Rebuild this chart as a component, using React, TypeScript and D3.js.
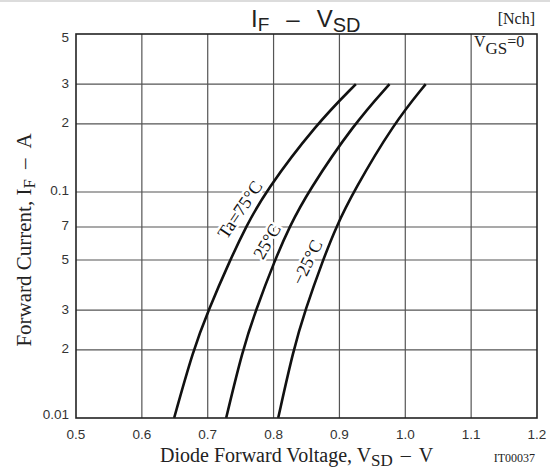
import React, { useEffect } from 'react';
import * as d3 from 'd3';

const W = 550;
const H = 471;

const xTicks = [0.5, 0.6, 0.7, 0.8, 0.9, 1.0, 1.1, 1.2];
const xTickLabels = ['0.5', '0.6', '0.7', '0.8', '0.9', '1.0', '1.1', '1.2'];
const yTicks = [0.01, 0.02, 0.03, 0.05, 0.07, 0.1, 0.2, 0.3, 0.5];
const yTickLabels = ['0.01', '2', '3', '5', '7', '0.1', '2', '3', '5'];

const currents = [0.01, 0.02, 0.03, 0.05, 0.07, 0.1, 0.2, 0.3];
const v75 = [0.649, 0.678, 0.701, 0.734, 0.758, 0.787, 0.865, 0.925];
const v25 = [0.728, 0.753, 0.773, 0.802, 0.824, 0.852, 0.922, 0.976];
const vm25 = [0.807, 0.83, 0.848, 0.875, 0.895, 0.921, 0.982, 1.031];

const seriesLabels = ['Ta=75°C', '25°C', '−25°C'];
const seriesLabelAt = [
  { v: 0.749, i: 0.0835, angle: -56 },
  { v: 0.79, i: 0.0604, angle: -60 },
  { v: 0.851, i: 0.0488, angle: -64 },
];

const SANS = '"Liberation Sans", Arial, sans-serif';
const SERIF = '"Liberation Serif", "Times New Roman", serif';

export default function App() {
  useEffect(() => {
    document.body.style.margin = '0';
  }, []);

  const left = 76, right = 537, top = 34, bottom = 418;
  const x = d3.scaleLinear().domain([0.5, 1.2]).range([left, right]);
  const y = d3.scaleLog().domain([0.01, 0.5]).range([bottom, top]);

  const line = d3
    .line<[number, number]>()
    .x((d) => x(d[0]))
    .y((d) => y(d[1]))
    .curve(d3.curveBasis);

  const series = [v75, v25, vm25].map((vs) =>
    vs.map((v, k) => [v, currents[k]] as [number, number])
  );

  const yLabelNudge = (k: number) => (k === 0 ? -4 : k === yTicks.length - 1 ? 3 : -1);

  return (
    <svg
      width={W}
      height={H}
      viewBox={`0 0 ${W} ${H}`}
      style={{ position: 'absolute', left: 0, top: 0, background: '#fff' }}
    >
      <rect x={0} y={0} width={W} height={H} fill="#fff" />
      <rect x={0} y={0} width={W} height={2} fill="#dcdcdc" />

      {/* grid */}
      {xTicks.slice(1, -1).map((t) => (
        <line key={'vx' + t} x1={x(t)} x2={x(t)} y1={top} y2={bottom} stroke="#555" strokeWidth={1.2} />
      ))}
      {yTicks.slice(1, -1).map((t) => (
        <line key={'hy' + t} x1={left} x2={right} y1={y(t)} y2={y(t)} stroke="#555" strokeWidth={1.2} />
      ))}

      {/* curves */}
      {series.map((s, k) => (
        <path key={'c' + k} d={line(s) || ''} fill="none" stroke="#111" strokeWidth={2.6} />
      ))}

      {/* curve labels */}
      {seriesLabels.map((lab, k) => {
        const p = seriesLabelAt[k];
        const cx = x(p.v);
        const cy = y(p.i);
        return (
          <text
            key={'l' + k}
            transform={`translate(${cx},${cy}) rotate(${p.angle})`}
            textAnchor="middle"
            dominantBaseline="central"
            fontFamily={SERIF}
            fontSize={18}
            fill="#111"
            stroke="#fff"
            strokeWidth={5}
            strokeLinejoin="round"
            style={{ paintOrder: 'stroke' }}
          >
            {lab}
          </text>
        );
      })}

      {/* frame */}
      <rect x={left} y={top} width={right - left} height={bottom - top} fill="none" stroke="#222" strokeWidth={1.6} />

      {/* tick labels */}
      {yTicks.map((t, k) => (
        <text
          key={'yt' + t}
          x={69}
          y={y(t) + yLabelNudge(k)}
          textAnchor="end"
          dominantBaseline="central"
          fontFamily={SANS}
          fontSize={13.5}
          fill="#333"
        >
          {yTickLabels[k]}
        </text>
      ))}
      {xTicks.map((t, k) => (
        <text
          key={'xt' + t}
          x={x(t)}
          y={439}
          textAnchor="middle"
          fontFamily={SANS}
          fontSize={13.5}
          fill="#333"
        >
          {xTickLabels[k]}
        </text>
      ))}

      {/* title */}
      <text x={251} y={27} fontFamily={SANS} fontSize={24} fill="#222">
        <tspan>I</tspan>
        <tspan fontSize={19} dy={4}>F</tspan>
        <tspan dy={-4} dx={17}>–</tspan>
        <tspan dx={17}>V</tspan>
        <tspan fontSize={20} dy={5}>SD</tspan>
      </text>
      <text x={535} y={24} textAnchor="end" fontFamily={SERIF} fontSize={16} fill="#222">
        [Nch]
      </text>
      <text x={474} y={47} fontFamily={SERIF} fontSize={16} fill="#222">
        <tspan>V</tspan>
        <tspan fontSize={17} dy={7}>GS</tspan>
        <tspan dy={-7}>=0</tspan>
      </text>

      {/* axis titles */}
      <text x={160} y={462} fontFamily={SERIF} fontSize={20} fill="#222">
        <tspan>Diode Forward Voltage, V</tspan>
        <tspan fontSize={17} dy={4}>SD</tspan>
        <tspan dy={-4} dx={8}>–</tspan>
        <tspan dx={8}>V</tspan>
      </text>
      <text x={535} y={462} textAnchor="end" fontFamily={SERIF} fontSize={12} fill="#222">
        IT00037
      </text>
      <text
        transform="translate(31,240) rotate(-90)"
        textAnchor="middle"
        fontFamily={SERIF}
        fontSize={21}
        fill="#222"
      >
        <tspan>Forward Current, I</tspan>
        <tspan fontSize={17} dy={4}>F</tspan>
        <tspan dy={-4} dx={10}>–</tspan>
        <tspan dx={10}>A</tspan>
      </text>
    </svg>
  );
}
